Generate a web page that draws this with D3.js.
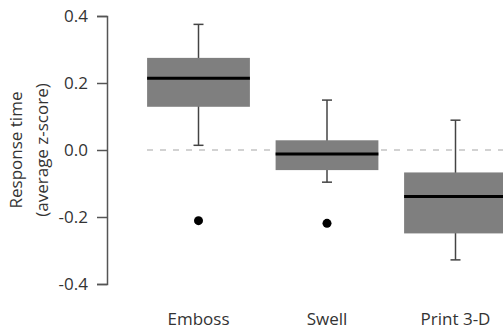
<!DOCTYPE html>
<html>
<head>
<meta charset="utf-8">
<script src="https://cdn.jsdelivr.net/npm/d3@7"></script>
<style>
  html, body { margin: 0; padding: 0; background: #fff; }
  svg { display: block; }
  text { font-family: "Open Sans", sans-serif; fill: #333; }
</style>
</head>
<body>
<svg id="chart" width="503" height="332"></svg>
<script>
const categories = ["Emboss", "Swell", "Print 3-D"];
const whiskerLow  = [0.014, -0.096, -0.328];
const q1          = [0.129, -0.060, -0.249];
const median      = [0.214, -0.012, -0.139];
const q3          = [0.275, 0.029, -0.067];
const whiskerHigh = [0.375, 0.149, 0.089];
const outliers    = [[-0.211], [-0.219], []];
const yTicks      = [-0.4, -0.2, 0.0, 0.2, 0.4];
const yLabelLines = ["Response time", "(average z-score)"];

const svg = d3.select("#chart");
const x = d3.scalePoint().domain(categories).range([198.5, 455.5]);
const boxW = x.step() * 0.8;
const y = d3.scaleLinear().domain([-0.4, 0.4]).range([284, 16]);

// reference dashed line at 0
svg.append("line")
  .attr("x1", 147).attr("x2", 503)
  .attr("y1", y(0)).attr("y2", y(0))
  .attr("stroke", "#c4c4c4").attr("stroke-width", 1.5)
  .attr("stroke-dasharray", "6,7");

// y axis
const fmt = v => d3.format(".1f")(v).replace("\u2212", "-");
const yAxis = d3.axisLeft(y).tickValues(yTicks).tickFormat(fmt).tickSizeOuter(0).tickSize(10).tickPadding(9);
const ga = svg.append("g").attr("transform", "translate(107,0)").call(yAxis);
ga.select(".domain").attr("stroke", "#555").attr("stroke-width", 1.5);
ga.selectAll(".tick line").attr("stroke", "#555").attr("stroke-width", 1.5);
ga.selectAll(".tick text").attr("font-size", 17).attr("fill", "#333")
  .style("font-family", "'Open Sans', sans-serif");

// y label
const yl = svg.append("g").attr("transform", `translate(0,${y(0)}) rotate(-90)`);
yLabelLines.forEach((t, i) => {
  yl.append("text").attr("x", 0).attr("y", 22 + i * 26)
    .attr("text-anchor", "middle").attr("font-size", 17).text(t);
});

// boxes
const data = categories.map((c, i) => ({c, lo: whiskerLow[i], q1: q1[i], med: median[i], q3: q3[i], hi: whiskerHigh[i], out: outliers[i]}));
const g = svg.selectAll("g.box").data(data).join("g").attr("class", "box");

g.append("line").attr("x1", d => x(d.c)).attr("x2", d => x(d.c))
  .attr("y1", d => y(d.hi)).attr("y2", d => y(d.lo))
  .attr("stroke", "#444").attr("stroke-width", 1.5);
[["hi"], ["lo"]].forEach(([k]) => {
  g.append("line").attr("x1", d => x(d.c) - 5).attr("x2", d => x(d.c) + 5)
    .attr("y1", d => y(d[k])).attr("y2", d => y(d[k]))
    .attr("stroke", "#444").attr("stroke-width", 1.5);
});
g.append("rect").attr("x", d => x(d.c) - boxW / 2).attr("width", boxW)
  .attr("y", d => y(d.q3)).attr("height", d => y(d.q1) - y(d.q3))
  .attr("fill", "#7f7f7f");
g.append("line").attr("x1", d => x(d.c) - boxW / 2).attr("x2", d => x(d.c) + boxW / 2)
  .attr("y1", d => y(d.med)).attr("y2", d => y(d.med))
  .attr("stroke", "#000").attr("stroke-width", 3);
g.selectAll("circle").data(d => d.out.map(v => ({c: d.c, v}))).join("circle")
  .attr("cx", d => x(d.c)).attr("cy", d => y(d.v)).attr("r", 4.5).attr("fill", "#000");

// category labels
svg.selectAll("text.cat").data(categories).join("text").attr("class", "cat")
  .attr("x", d => x(d)).attr("y", 325).attr("text-anchor", "middle")
  .attr("font-size", 17).text(d => d);
</script>
</body>
</html>
